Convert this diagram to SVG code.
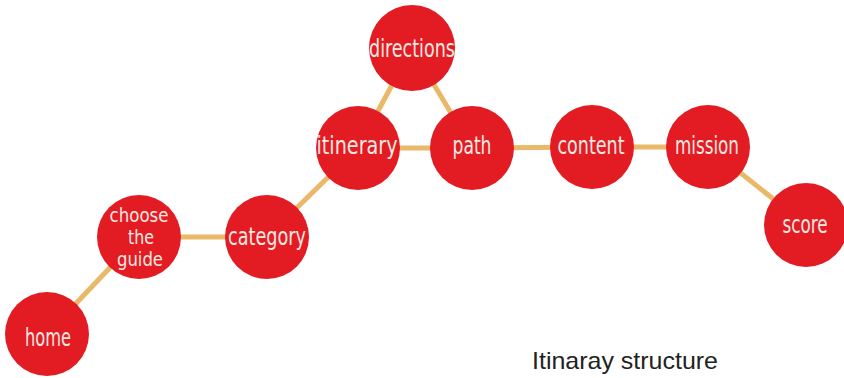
<svg xmlns="http://www.w3.org/2000/svg" width="844" height="378" viewBox="0 0 844 378">
<style>
.edge{stroke:#e9b869;stroke-width:5;fill:none}
.node circle{fill:#e31b23}
.node text{fill:#f7e8e2;font-family:"DejaVu Sans",sans-serif;font-stretch:condensed;font-size:25px;text-anchor:middle}
.node text.s{font-size:19px}
.title{fill:#222;font-family:"Liberation Sans",Arial,sans-serif;font-size:24px}
</style>
<rect width="844" height="378" fill="#fff"/>
<g id="connectors">
<line class="edge" x1="47" y1="334" x2="139" y2="237"/>
<line class="edge" x1="139" y1="237" x2="267" y2="237"/>
<line class="edge" x1="267" y1="237" x2="358" y2="148"/>
<line class="edge" x1="358" y1="148" x2="412" y2="48"/>
<line class="edge" x1="412" y1="48" x2="472" y2="148"/>
<line class="edge" x1="358" y1="148" x2="472" y2="148"/>
<line class="edge" x1="472" y1="148" x2="592" y2="147"/>
<line class="edge" x1="592" y1="147" x2="708" y2="147"/>
<line class="edge" x1="708" y1="147" x2="806" y2="225"/>
</g>
<g id="home" class="node"><circle cx="47" cy="334" r="42"/><text x="48" y="346" textLength="46" lengthAdjust="spacingAndGlyphs">home</text></g>
<g id="choose" class="node"><circle cx="139" cy="237" r="42"/>
<text class="s" x="139" y="222" textLength="59" lengthAdjust="spacingAndGlyphs">choose</text>
<text class="s" x="141" y="244" textLength="26" lengthAdjust="spacingAndGlyphs">the</text>
<text class="s" x="140" y="266" textLength="46" lengthAdjust="spacingAndGlyphs">guide</text></g>
<g id="category" class="node"><circle cx="267" cy="237" r="42"/><text x="267" y="245" textLength="78" lengthAdjust="spacingAndGlyphs">category</text></g>
<g id="itinerary" class="node"><circle cx="358" cy="148" r="42"/><text x="357" y="154" textLength="81" lengthAdjust="spacingAndGlyphs">itinerary</text></g>
<g id="directions" class="node"><circle cx="412" cy="48" r="43"/><text x="412" y="57" textLength="86" lengthAdjust="spacingAndGlyphs">directions</text></g>
<g id="path" class="node"><circle cx="472" cy="148" r="42"/><text x="472" y="154" textLength="39" lengthAdjust="spacingAndGlyphs">path</text></g>
<g id="content" class="node"><circle cx="592" cy="147" r="42"/><text x="591" y="154" textLength="67" lengthAdjust="spacingAndGlyphs">content</text></g>
<g id="mission" class="node"><circle cx="708" cy="147" r="42"/><text x="707" y="154" textLength="64" lengthAdjust="spacingAndGlyphs">mission</text></g>
<g id="score" class="node"><circle cx="806" cy="225" r="42"/><text x="805" y="233" textLength="45" lengthAdjust="spacingAndGlyphs">score</text></g>
<text class="title" x="532" y="369" textLength="186" lengthAdjust="spacingAndGlyphs">Itinaray structure</text>
</svg>
